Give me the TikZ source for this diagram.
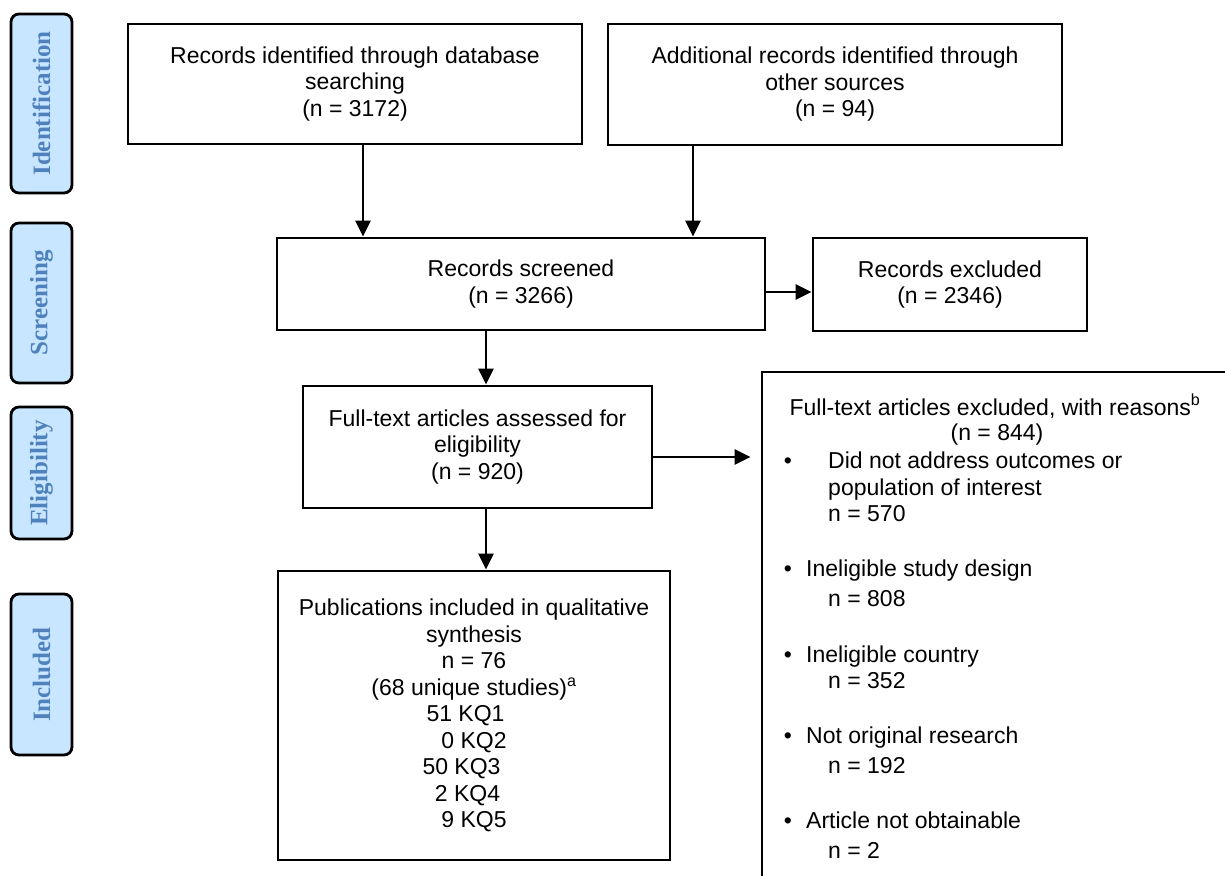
\documentclass[tikz,border=0pt]{standalone}
\usepackage{fontspec}
\setmainfont{Liberation Sans}
\newfontfamily\labfont{Liberation Serif}
\usetikzlibrary{arrows.meta}
\definecolor{labfill}{RGB}{200,230,255}
\definecolor{labtext}{RGB}{79,129,189}
\tikzset{
 box/.style={draw, line width=2.8pt, inner sep=0pt, align=center, font=\fontsize{23}{26.5}\selectfont},
 phase/.style={draw, line width=2.8pt, rounded corners=8pt, fill=labfill, inner sep=0pt, text=labtext, font=\labfont\bfseries\fontsize{25}{28}\selectfont},
 arr/.style={line width=2.8pt, -{Triangle[length=16pt,width=15pt]}},
 txt/.style={inner sep=0pt, anchor=base west, font=\fontsize{23}{26.5}\selectfont},
}
\begin{document}
\begin{tikzpicture}[x=1pt,y=-1pt]
\useasboundingbox (0,0) rectangle (1225,875);
\clip (0,0) rectangle (1225,875);

% phase labels
\node[phase, rotate=90, minimum width=179pt, minimum height=61pt] (pid) at (41.5,103.5) {Identification};
\node[phase, rotate=90, minimum width=160pt, minimum height=61pt] (psc) at (41.5,303) {Screening};
\node[phase, rotate=90, minimum width=132pt, minimum height=61pt] (pel) at (41.5,473) {Eligibility};
\node[phase, rotate=90, minimum width=161pt, minimum height=61pt] (pin) at (41.5,674.5) {Included};

% main boxes
\node[box, minimum width=454pt, minimum height=120pt] (b1) at (355,84) {Records identified through database\\searching\\(n = 3172)};
\node[box, minimum width=454pt, minimum height=121pt] (b2) at (835,84.5) {Additional records identified through\\other sources\\(n = 94)};
\node[box, minimum width=488pt, minimum height=92pt] (scr) at (521,284) {Records screened\\(n = 3266)};
\node[box, minimum width=274pt, minimum height=93pt] (exc) at (950,284.5) {Records excluded\\(n = 2346)};
\node[box, minimum width=349pt, minimum height=122pt] (full) at (477.5,447) {Full-text articles assessed for\\eligibility\\(n = 920)};
\node[box, minimum width=392pt, minimum height=289pt] (pubs) at (474,715.5) {Publications included in qualitative\\synthesis\\n = 76\\(68 unique studies)\textsuperscript{a}\\51 KQ1\rule{17pt}{0pt}\\0 KQ2\\50 KQ3\rule{25pt}{0pt}\\2 KQ4\rule{13pt}{0pt}\\9 KQ5};
\node[box, minimum width=466pt, minimum height=518pt] (rsn) at (995,631) {};

% reasons text
\node[txt, anchor=base] (rh1) at (995,415) {Full-text articles excluded, with reasons\textsuperscript{b}};
\node[txt, anchor=base] (rh2) at (997,440) {(n = 844)};
\node[txt, anchor=base] (d1) at (788,468) {•};
\node[txt] (t1a) at (828,468) {Did not address outcomes or};
\node[txt] (t1b) at (828,495) {population of interest};
\node[txt] (t1c) at (828,521) {n = 570};
\node[txt, anchor=base] (d2) at (788,576) {•};
\node[txt] (t2a) at (806,576) {Ineligible study design};
\node[txt] (t2b) at (828,606) {n = 808};
\node[txt, anchor=base] (d3) at (788,662) {•};
\node[txt] (t3a) at (806,662) {Ineligible country};
\node[txt] (t3b) at (828,688) {n = 352};
\node[txt, anchor=base] (d4) at (788,743) {•};
\node[txt] (t4a) at (806,743) {Not original research};
\node[txt] (t4b) at (828,773) {n = 192};
\node[txt, anchor=base] (d5) at (788,828) {•};
\node[txt] (t5a) at (806,828) {Article not obtainable};
\node[txt] (t5b) at (828,858) {n = 2};

% connectors
\coordinate (c1) at (363,0);
\coordinate (c2) at (693,0);
\coordinate (c3) at (486,0);
\coordinate (r1) at (0,292);
\coordinate (r2) at (0,457);
\draw[arr] (b1.south -| c1) -- (scr.north -| c1);
\draw[arr] (b2.south -| c2) -- (scr.north -| c2);
\draw[arr] (scr.east |- r1) -- (exc.west |- r1);
\draw[arr] (scr.south -| c3) -- (full.north -| c3);
\draw[arr, shorten >=10pt] (full.east |- r2) -- (rsn.west |- r2);
\draw[arr] (full.south -| c3) -- (pubs.north -| c3);
\end{tikzpicture}
\end{document}
